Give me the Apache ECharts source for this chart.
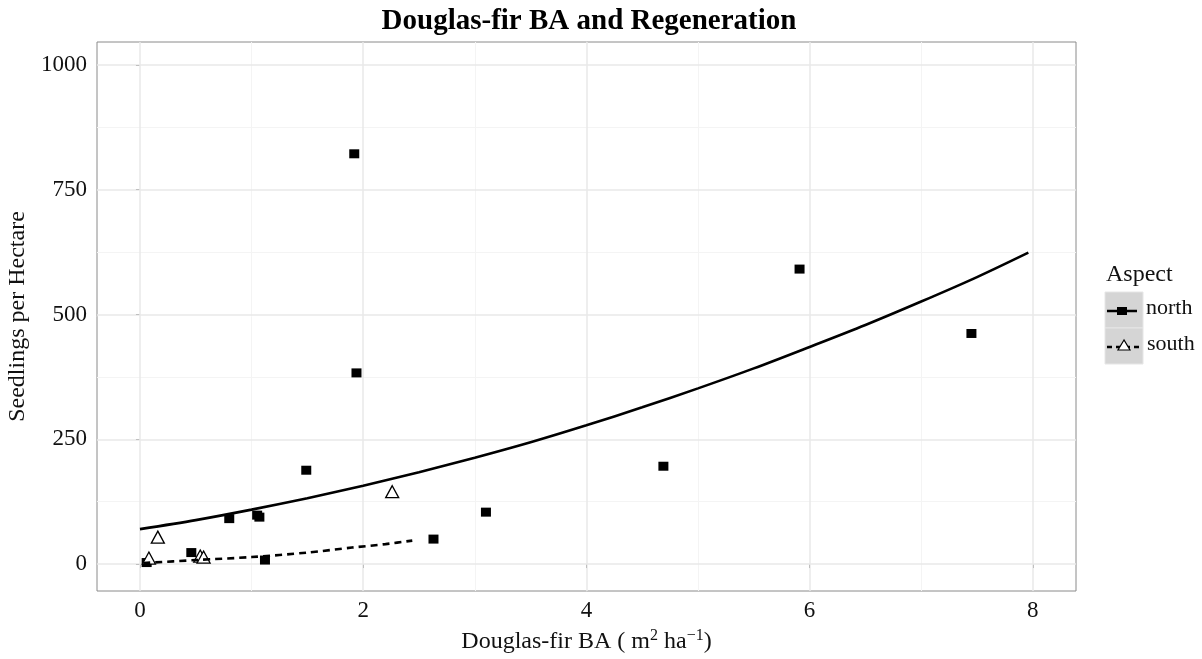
<!DOCTYPE html>
<html>
<head>
<meta charset="utf-8">
<script src="https://cdn.jsdelivr.net/npm/echarts@6/dist/echarts.min.js"></script>
<style>
  html, body { margin: 0; padding: 0; background: #ffffff; }
  #chart { width: 1202px; height: 659px; }
</style>
</head>
<body>
<div id="chart"></div>
<script>
// Douglas-fir basal area (m2/ha) vs. seedlings per hectare, by aspect
const northBA = [1.92, 1.94, 1.49, 0.80, 1.05, 1.07, 0.46, 1.12, 0.06, 2.63, 3.10, 4.69, 5.91, 7.45];
const northSeedlings = [822, 383, 188, 91, 98, 94, 23, 8, 3, 50, 104, 196, 591, 462];

const southBA = [0.08, 0.16, 0.54, 0.57, 2.26];
const southSeedlings = [12, 54, 16, 14, 145];

// fitted trend curves
const northFitBA = [0, 0.5, 1, 1.5, 2, 2.5, 3, 3.5, 4, 4.5, 5, 5.5, 6, 6.5, 7, 7.5, 7.96];
const northFitSeedlings = [70, 88, 109, 132, 157, 184, 213, 244, 278, 314, 352, 392, 435, 479, 526, 575, 624];

const southFitBA = [0.03, 0.5, 1, 1.5, 1.9, 2.2, 2.44];
const southFitSeedlings = [2, 8, 14, 23, 33, 40, 47];

// axis ticks and grid
const xTicks = [0, 2, 4, 6, 8];
const xMinorGrid = [1, 3, 5, 7];
const yTicks = [0, 250, 500, 750, 1000];
const yMinorGrid = [125, 375, 625, 875];

const pairs = (xs, ys) => xs.map((x, i) => [x, ys[i]]);

const SERIF = '"Liberation Serif", "DejaVu Serif", serif';
const GRID_MAJOR = '#e8e8e8';
const GRID_MINOR = '#f4f4f4';

const gridLines = [].concat(
  xMinorGrid.map(v => ({ xAxis: v, lineStyle: { color: GRID_MINOR, width: 1, type: 'solid' } })),
  yMinorGrid.map(v => ({ yAxis: v, lineStyle: { color: GRID_MINOR, width: 1, type: 'solid' } })),
  xTicks.map(v => ({ xAxis: v, lineStyle: { color: GRID_MAJOR, width: 1.5, type: 'solid' } })),
  yTicks.map(v => ({ yAxis: v, lineStyle: { color: GRID_MAJOR, width: 1.5, type: 'solid' } }))
);

const chart = echarts.init(document.getElementById('chart'), null, { renderer: 'canvas' });

// legend panel (Aspect)
const LX = 1105, LY = 292, KW = 38, KH = 36;
const legendGraphics = [
  { type: 'text', left: LX + 1, top: LY - 29,
    style: { text: 'Aspect', font: '24px ' + SERIF, fill: '#111' } },
  { type: 'rect', shape: { x: LX, y: LY, width: KW, height: KH },
    style: { fill: '#d5d5d5', stroke: '#e6e6e6', lineWidth: 1 } },
  { type: 'rect', shape: { x: LX, y: LY + KH, width: KW, height: KH },
    style: { fill: '#d5d5d5', stroke: '#e6e6e6', lineWidth: 1 } },
  { type: 'line', shape: { x1: LX + 2, y1: LY + KH / 2 + 1, x2: LX + KW - 6, y2: LY + KH / 2 + 1 },
    style: { stroke: '#000', lineWidth: 2.5 } },
  { type: 'rect', shape: { x: LX + 12, y: LY + KH / 2 - 3, width: 10, height: 8 },
    style: { fill: '#000' } },
  { type: 'line', shape: { x1: LX + 2, y1: LY + KH * 1.5 + 1, x2: LX + KW - 4, y2: LY + KH * 1.5 + 1 },
    style: { stroke: '#000', lineWidth: 2.5, lineDash: [5, 4] } },
  { type: 'polygon', shape: { points: [[LX + 19, LY + KH * 1.5 - 6], [LX + 13, LY + KH * 1.5 + 4], [LX + 25, LY + KH * 1.5 + 4]] },
    style: { fill: '#fff', stroke: '#000', lineWidth: 1.2 } },
  { type: 'text', left: LX + KW + 3, top: LY + KH / 2 - 13,
    style: { text: 'north', font: '22px ' + SERIF, fill: '#111' } },
  { type: 'text', left: LX + KW + 4, top: LY + KH * 1.5 - 13,
    style: { text: 'south', font: '22px ' + SERIF, fill: '#111' } }
];

const option = {
  animation: false,
  backgroundColor: '#ffffff',
  title: {
    text: 'Douglas-fir BA and Regeneration',
    left: 584,
    textAlign: 'center',
    top: 2,
    textStyle: { fontFamily: SERIF, fontWeight: 'bold', fontSize: 29, color: '#000' }
  },
  grid: {
    left: 97, right: 126, top: 42, bottom: 68,
    outerBoundsMode: 'none',
    containLabel: false,
    show: true, borderColor: '#8a8a8a', borderWidth: 1, backgroundColor: '#ffffff'
  },
  xAxis: {
    type: 'value',
    min: -0.385,
    max: 8.387,
    name: 'Douglas-fir BA ( m{sup|2} ha{sup|\u22121})',
    nameLocation: 'middle',
    nameGap: 37,
    nameTextStyle: {
      fontFamily: SERIF, fontSize: 24, color: '#111', lineHeight: 28,
      rich: {
        sup: { fontFamily: SERIF, fontSize: 16, color: '#111', verticalAlign: 'top', lineHeight: 28 }
      }
    },
    axisLine: { show: false },
    axisTick: { show: true, length: 4, customValues: xTicks, lineStyle: { color: '#444', width: 1 } },
    axisLabel: { customValues: xTicks, margin: 8, fontFamily: SERIF, fontSize: 23, color: '#111',
      formatter: v => String(v) },
    splitLine: { show: false }
  },
  yAxis: {
    type: 'value',
    min: -54,
    max: 1046,
    name: 'Seedlings per Hectare',
    nameLocation: 'middle',
    nameGap: 64,
    nameRotate: 90,
    nameTextStyle: { fontFamily: SERIF, fontSize: 24, color: '#111' },
    axisLine: { show: false },
    axisTick: { show: true, length: 4, customValues: yTicks, lineStyle: { color: '#444', width: 1 } },
    axisLabel: { customValues: yTicks, margin: 10, fontFamily: SERIF, fontSize: 23, color: '#111',
      formatter: v => String(v) },
    splitLine: { show: false }
  },
  graphic: legendGraphics,
  series: [
    {
      name: 'grid',
      type: 'line',
      data: [],
      silent: true,
      z: 1,
      markLine: {
        silent: true,
        z: 1,
        symbol: ['none', 'none'],
        label: { show: false },
        emphasis: { disabled: true },
        data: gridLines
      }
    },
    {
      name: 'north',
      type: 'scatter',
      data: pairs(northBA, northSeedlings),
      symbol: 'rect',
      symbolSize: [10, 9],
      itemStyle: { color: '#000', opacity: 1 },
      z: 3
    },
    {
      name: 'south',
      type: 'scatter',
      data: pairs(southBA, southSeedlings),
      symbol: 'triangle',
      symbolSize: [13, 12],
      itemStyle: { color: '#ffffff', borderColor: '#000', borderWidth: 1.3, opacity: 1 },
      z: 3
    },
    {
      name: 'north fit',
      type: 'line',
      data: pairs(northFitBA, northFitSeedlings),
      smooth: 0.3,
      showSymbol: false,
      lineStyle: { color: '#000', width: 2.6 },
      z: 4
    },
    {
      name: 'south fit',
      type: 'line',
      data: pairs(southFitBA, southFitSeedlings),
      smooth: 0.3,
      showSymbol: false,
      lineStyle: { color: '#000', width: 2.6, type: [7, 5] },
      z: 4
    }
  ]
};

chart.setOption(option);
</script>
</body>
</html>
